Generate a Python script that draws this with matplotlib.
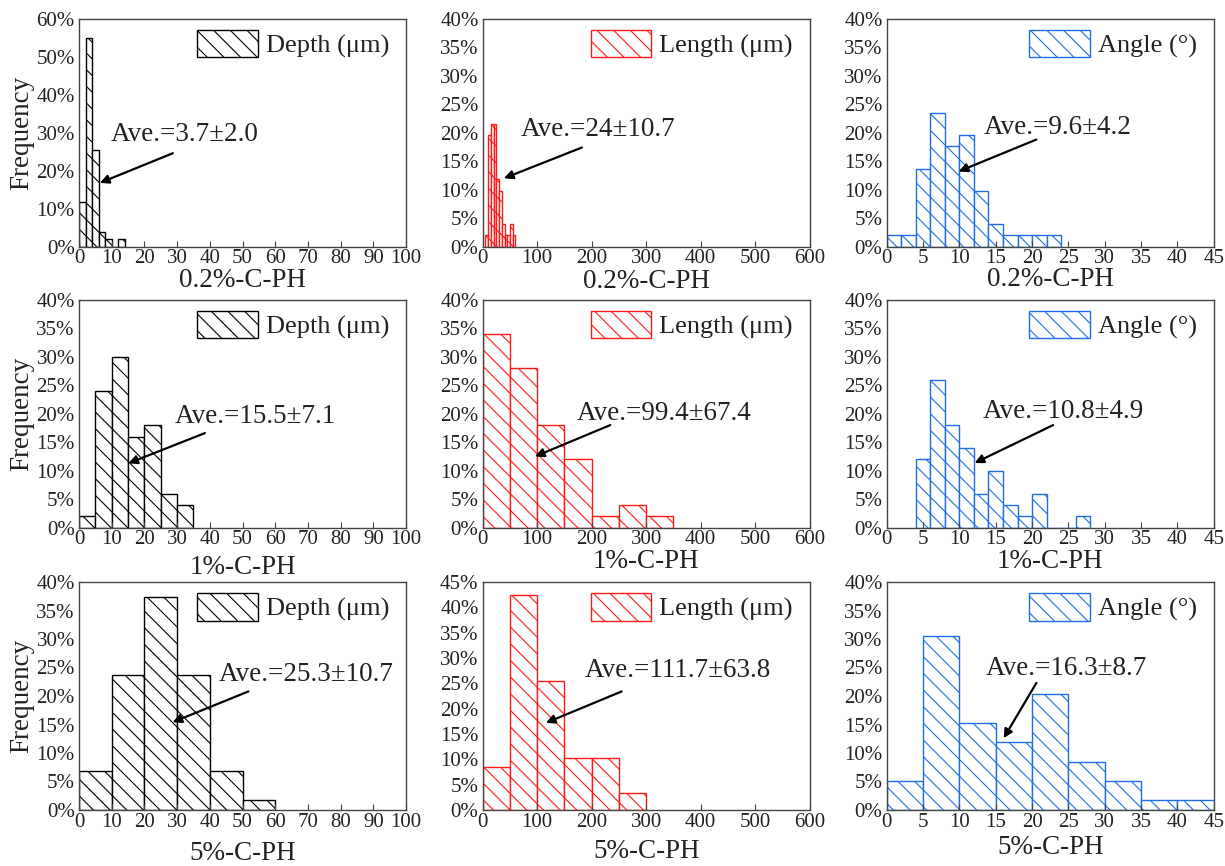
import numpy as np
import matplotlib
matplotlib.use("Agg")
import matplotlib.pyplot as plt
from matplotlib.patches import Patch

plt.rcParams["font.family"] = ["Liberation Serif", "DejaVu Serif"]
plt.rcParams["hatch.linewidth"] = 0.8
plt.rcParams["mathtext.fontset"] = "stix"

# ---- data: bin edges and frequencies (%) ----
groups = ["0.2%-C-PH", "1%-C-PH", "5%-C-PH"]

depth_edges_02 = [0, 2, 4, 6, 8, 10, 12, 14]
depth_freq_02 = [11.8, 54.9, 25.5, 3.9, 2.0, 0.0, 2.0]
length_edges_02 = [5, 10, 15, 20, 25, 30, 35, 40, 45, 50, 55, 60]
length_freq_02 = [2.0, 19.6, 21.6, 21.6, 11.8, 9.8, 3.9, 2.0, 2.0, 3.9, 2.0]
angle_edges_02 = [0, 2, 4, 6, 8, 10, 12, 14, 16, 18, 20, 22, 24]
angle_freq_02 = [2.0, 2.0, 13.7, 23.5, 17.6, 19.6, 9.8, 3.9, 2.0, 2.0, 2.0, 2.0]

depth_edges_1 = [0, 5, 10, 15, 20, 25, 30, 35]
depth_freq_1 = [2, 24, 30, 16, 18, 6, 4]
length_edges_1 = [0, 50, 100, 150, 200, 250, 300, 350]
length_freq_1 = [34, 28, 18, 12, 2, 4, 2]
angle_edges_1 = [4, 6, 8, 10, 12, 14, 16, 18, 20, 22, 24, 26, 28]
angle_freq_1 = [12, 26, 18, 14, 6, 10, 4, 2, 6, 0, 0, 2]

depth_edges_5 = [0, 10, 20, 30, 40, 50, 60]
depth_freq_5 = [6.8, 23.7, 37.3, 23.7, 6.8, 1.7]
length_edges_5 = [0, 50, 100, 150, 200, 250, 300]
length_freq_5 = [8.5, 42.4, 25.4, 10.2, 10.2, 3.4]
angle_edges_5 = [0, 5, 10, 15, 20, 25, 30, 35, 40, 45]
angle_freq_5 = [5.1, 30.5, 15.3, 11.9, 20.3, 8.5, 5.1, 1.7, 1.7]

averages = [
    ["Ave.=3.7\u00b12.0", "Ave.=24\u00b110.7", "Ave.=9.6\u00b14.2"],
    ["Ave.=15.5\u00b17.1", "Ave.=99.4\u00b167.4", "Ave.=10.8\u00b14.9"],
    ["Ave.=25.3\u00b110.7", "Ave.=111.7\u00b163.8", "Ave.=16.3\u00b18.7"],
]

legend_labels = ["Depth (\u03bcm)", "Length (\u03bcm)", "Angle (\u00b0)"]

hist_edges = [
    [depth_edges_02, length_edges_02, angle_edges_02],
    [depth_edges_1, length_edges_1, angle_edges_1],
    [depth_edges_5, length_edges_5, angle_edges_5],
]
hist_freq = [
    [depth_freq_02, length_freq_02, angle_freq_02],
    [depth_freq_1, length_freq_1, angle_freq_1],
    [depth_freq_5, length_freq_5, angle_freq_5],
]

# ---- styling / layout ----
colors = ["#000000", "#ff1a1a", "#1f6ee8"]
x_limits = [(0, 100), (0, 600), (0, 45)]
x_steps = [10, 100, 5]
y_limits = [[60, 40, 40], [40, 40, 40], [40, 45, 40]]
y_steps = [[10, 5, 5], [5, 5, 5], [5, 5, 5]]

# text position (left, centre) and arrow (tail, head) in data coordinates
text_pos = [
    [(9.8, 29.4), (70, 20.5), (13.3, 21.0)],
    [(29.4, 19.5), (172, 20.0), (13.2, 20.4)],
    [(42.6, 23.8), (188, 27.5), (13.6, 24.8)],
]
arrow_tail = [
    [(28.7, 24.6), (182, 17.4), (20.6, 18.8)],
    [(38.5, 16.6), (234, 18.0), (22.9, 18.0)],
    [(51.8, 20.8), (255, 23.4), (20.6, 22.3)],
]
arrow_head = [
    [(6.4, 16.8), (39, 12.0), (9.9, 13.2)],
    [(15.1, 11.3), (96, 12.5), (12.1, 11.35)],
    [(28.6, 15.4), (116, 17.2), (16.1, 12.6)],
]
xlabel_offset_px = [[34, 35, 33], [40, 34, 34], [44, 42, 38]]

W, H = 1225, 866
col_left_px = [79, 482.7, 886.7]
row_bottom_px = [246.7, 527.7, 810]
ax_w_px, ax_h_px = 327, 228

fig = plt.figure(figsize=(W / 100, H / 100), dpi=100)
text_color = "#222222"

for r in range(3):
    for c in range(3):
        ax = fig.add_axes([col_left_px[c] / W, 1 - row_bottom_px[r] / H,
                           ax_w_px / W, ax_h_px / H])
        edges = np.array(hist_edges[r][c], dtype=float)
        freq = np.array(hist_freq[r][c], dtype=float)
        col = colors[c]
        ax.bar(edges[:-1], freq, width=np.diff(edges), align="edge",
               facecolor="white", edgecolor=col, linewidth=1.0,
               hatch="\\\\")
        ax.set_xlim(*x_limits[c])
        ax.set_ylim(0, y_limits[r][c])
        ax.set_xticks(np.arange(x_limits[c][0], x_limits[c][1] + 0.1, x_steps[c]))
        yt = np.arange(0, y_limits[r][c] + 0.1, y_steps[r][c])
        ax.set_yticks(yt)
        ax.set_yticklabels([f"{int(v)}%" for v in yt])
        ax.tick_params(axis="x", direction="in", length=4, width=0.8,
                       labelsize=15, labelcolor=text_color, pad=2, color="#444444")
        ax.tick_params(axis="y", direction="in", length=0,
                       labelsize=15, labelcolor=text_color, pad=3)
        for s in ax.spines.values():
            s.set_color("#444444")
            s.set_linewidth(1.0)

        ax.set_xlabel(groups[r], fontsize=19.5, color=text_color, va="center")
        ax.xaxis.set_label_coords(0.5, -xlabel_offset_px[r][c] / ax_h_px)
        if c == 0:
            ax.set_ylabel("Frequency", fontsize=19.5, color=text_color)
            ax.yaxis.set_label_coords(-45 / ax_w_px, 0.5)

        handle = Patch(facecolor="white", edgecolor=col, hatch="\\\\", linewidth=1.0)
        ax.legend([handle], [legend_labels[c]], loc="upper right",
                  bbox_to_anchor=(1 - 5 / ax_w_px, 1 + 1 / ax_h_px),
                  frameon=False, fontsize=19, handlelength=2.3, handleheight=1.25,
                  handletextpad=0.3, borderaxespad=0.15, borderpad=0.3,
                  labelcolor=text_color)

        tx, ty = text_pos[r][c]
        ax.text(tx, ty, averages[r][c], fontsize=19.5, color=text_color,
                ha="left", va="center")
        ax.annotate("", xy=arrow_head[r][c], xytext=arrow_tail[r][c],
                    arrowprops=dict(arrowstyle="-|>", color="black", lw=1.6,
                                    mutation_scale=13, shrinkA=0, shrinkB=0))

fig.savefig("out.png", dpi=100)
